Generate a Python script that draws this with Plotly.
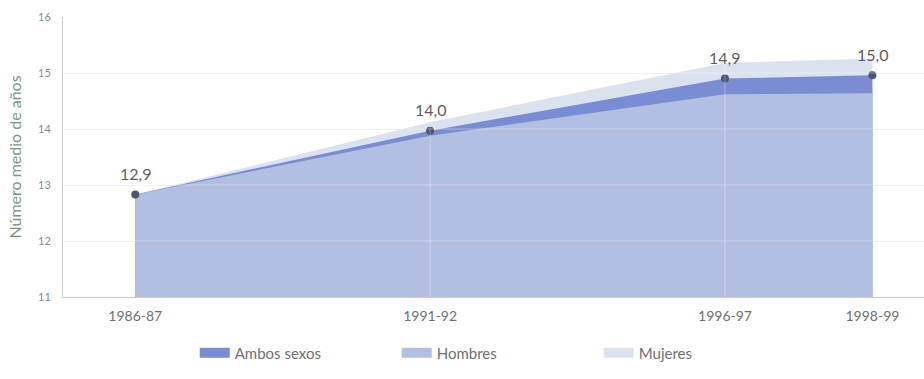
import plotly.graph_objects as go

periods = ["1986-87", "1991-92", "1996-97", "1998-99"]
x_positions = [0, 2, 4, 5]
ambos = [12.83, 13.97, 14.9, 14.96]
hombres = [12.83, 13.88, 14.62, 14.64]
mujeres = [12.83, 14.12, 15.18, 15.26]
labels = ["12,9", "14,0", "14,9", "15,0"]
y_ticks = [11, 12, 13, 14, 15, 16]
series_names = ["Ambos sexos", "Hombres", "Mujeres"]

c_ambos = "#7a8dd3"
c_hombres = "#b2bee2"
c_mujeres = "#dbe2ef"
colors = [c_ambos, c_hombres, c_mujeres]

fig = go.Figure()
fig.add_trace(go.Scatter(x=x_positions, y=mujeres, name="Mujeres", mode="lines",
                         line=dict(width=0, color=c_mujeres), fill="tozeroy",
                         fillcolor=c_mujeres, showlegend=False, hoverinfo="skip"))
fig.add_trace(go.Scatter(x=x_positions, y=ambos, name="Ambos sexos", mode="lines",
                         line=dict(width=0, color=c_ambos), fill="tozeroy",
                         fillcolor=c_ambos, showlegend=False, hoverinfo="skip"))
fig.add_trace(go.Scatter(x=x_positions, y=hombres, name="Hombres", mode="lines",
                         line=dict(width=0, color=c_hombres), fill="tozeroy",
                         fillcolor=c_hombres, showlegend=False, hoverinfo="skip"))
fig.add_trace(go.Scatter(x=x_positions, y=ambos, mode="markers",
                         marker=dict(size=8, color="#4b5570"), showlegend=False,
                         hoverinfo="skip"))
# legend swatches
for nm, col in zip(series_names, colors):
    fig.add_trace(go.Scatter(x=[None], y=[None], mode="lines", name=nm,
                             line=dict(color=col, width=14)))

for xv, yv, lab in zip(x_positions, ambos, labels):
    fig.add_annotation(x=xv, y=yv, text=lab, showarrow=False, yshift=21,
                       yanchor="middle", xanchor="center",
                       font=dict(family="Lato", size=16, color="#5e5e5e"))

shapes = []
for yv in y_ticks[1:]:
    shapes.append(dict(type="line", xref="paper", x0=0, x1=1, yref="y", y0=yv, y1=yv,
                       line=dict(color="rgba(255,255,255,0.35)", width=1), layer="above"))
for xv in x_positions[1:3]:
    shapes.append(dict(type="line", xref="x", x0=xv, x1=xv, yref="y", y0=y_ticks[0], y1=y_ticks[-1],
                       line=dict(color="rgba(255,255,255,0.35)", width=1), layer="above"))

fig.update_layout(
    width=924, height=379,
    margin=dict(l=63, r=0, t=17, b=82),
    paper_bgcolor="white", plot_bgcolor="white",
    font=dict(family="Lato", color="#666666"),
    shapes=shapes,
    showlegend=True,
    hovermode=False,
    legend=dict(orientation="h", x=0.153, xanchor="left", y=-0.2, yanchor="middle",
                font=dict(family="Lato", size=15, color="#707070"),
                entrywidth=157, traceorder="normal"),
    xaxis=dict(range=[-0.49, 5.35], tickvals=x_positions, ticktext=periods,
               showgrid=False, zeroline=False, showline=True, linecolor="#cccccc",
               ticks="", automargin=False, ticklabelstandoff=6,
               tickfont=dict(family="Lato", size=14, color="#707070")),
    yaxis=dict(range=[11, 16], tickvals=y_ticks, showgrid=True, gridcolor="#ececec",
               zeroline=False, showline=True, linecolor="#cccccc", ticks="",
               automargin=False, ticklabelstandoff=9,
               tickfont=dict(family="Liberation Sans Narrow, Lato", size=11, color="#888888"),
               title=dict(text="Número medio de años", standoff=12,
                          font=dict(family="Lato", size=16, color="#7a9580"))),
)

fig.write_html("out.html", config={"displayModeBar": False},
               post_script="document.body.style.margin='0';")
